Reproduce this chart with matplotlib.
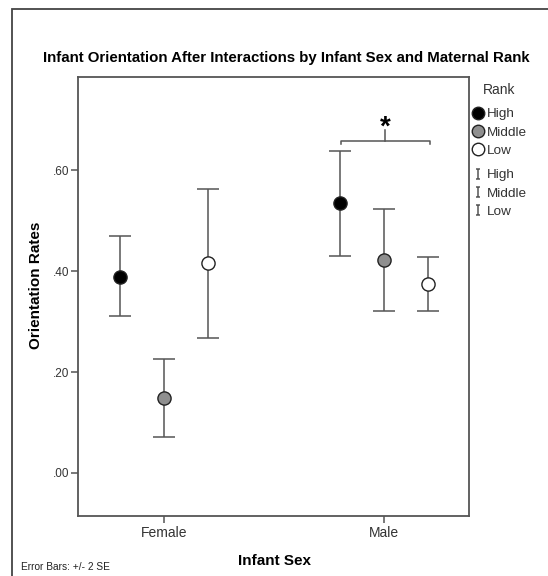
import matplotlib
matplotlib.use("Agg")
import matplotlib.pyplot as plt
import numpy as np
from matplotlib.lines import Line2D
from matplotlib.patches import Rectangle
from matplotlib.path import Path
from matplotlib.ticker import FuncFormatter

plt.rcParams["font.family"] = ["Liberation Sans", "DejaVu Sans"]

SEXES = ["Female", "Male"]
RANKS = ["High", "Middle", "Low"]

# group means and the +/- 2 SE limits, Female then Male
high_mean = [0.389, 0.536]
high_lo = [0.311, 0.431]
high_hi = [0.470, 0.639]
middle_mean = [0.149, 0.422]
middle_lo = [0.071, 0.320]
middle_hi = [0.226, 0.523]
low_mean = [0.416, 0.375]
low_lo = [0.267, 0.320]
low_hi = [0.562, 0.429]

MEANS = {"High": high_mean, "Middle": middle_mean, "Low": low_mean}
LOWER = {"High": high_lo, "Middle": middle_lo, "Low": low_lo}
UPPER = {"High": high_hi, "Middle": middle_hi, "Low": low_hi}
FACES = {"High": "black", "Middle": "#8f8f8f", "Low": "white"}
OFFSETS = {"High": -0.2, "Middle": 0.0, "Low": 0.2}
LINE = "#555555"
TEXT = "#333333"

fig = plt.figure(figsize=(5.48, 5.76), dpi=100)
ax = fig.add_axes([0.1416, 0.1050, 0.7150, 0.7613])

x = np.arange(len(SEXES))
for rank in RANKS:
    xs = x + OFFSETS[rank]
    m = np.array(MEANS[rank])
    err = [m - np.array(LOWER[rank]), np.array(UPPER[rank]) - m]
    ax.errorbar(xs, m, yerr=err, fmt="none", ecolor=LINE, elinewidth=1.1,
                capsize=8, capthick=1.1, zorder=2)
    ax.plot(xs, m, linestyle="none", marker="o", markersize=9.5,
            markerfacecolor=FACES[rank], markeredgecolor="#222222",
            markeredgewidth=1.0, zorder=3)

# significance bracket over the male groups
bx0, bx1 = 1 + OFFSETS["High"] + 0.006, 1 + OFFSETS["Low"] + 0.009
by = 0.659
ax.plot([bx0, bx0, bx1, bx1], [by - 0.006, by, by, by - 0.006],
        color=LINE, lw=1.1, solid_joinstyle="round")
ax.plot([1.005, 1.005], [by, by + 0.021], color=LINE, lw=1.1)
ax.text(1.005, 0.685, "*", ha="center", va="center", fontsize=20,
        fontweight="bold", color="black")

ax.set_xlim(-0.39, 1.386)
ax.set_ylim(-0.0846, 0.785)
ax.set_xticks(x)
ax.set_xticklabels(SEXES)
ax.set_yticks([0.0, 0.2, 0.4, 0.6])
ax.yaxis.set_major_formatter(FuncFormatter(lambda v, p: f"{v:.2f}".lstrip("0")))
ax.tick_params(axis="x", length=5, width=1.1, color=LINE, labelsize=10,
               labelcolor=TEXT, pad=2.5)
ax.tick_params(axis="y", length=5, width=1.1, color=LINE, labelsize=8.5,
               labelcolor=TEXT, pad=1)
for s in ax.spines.values():
    s.set_color(LINE)
    s.set_linewidth(1.3)

fig.text(0.522, 0.8998, "Infant Orientation After Interactions by Infant Sex and Maternal Rank",
         ha="center", va="center", fontsize=10.8, fontweight="bold")
fig.text(35.5 / 548, 1 - 285 / 576, "Orientation Rates", rotation=90,
         ha="center", va="center", fontsize=11, fontweight="bold")
fig.text(274 / 548, 1 - 561 / 576, "Infant Sex", ha="center", va="center",
         fontsize=11, fontweight="bold")
fig.text(21 / 548, 1 - 567 / 576, "Error Bars: +/- 2 SE", ha="left",
         va="center", fontsize=7.3, color="#222222")

# outer chart frame
fig.add_artist(Rectangle((11.5 / 548, -0.05), 1.2, 1.05 - 9.4 / 576,
                         transform=fig.transFigure, fill=False,
                         edgecolor="#444444", lw=1.3))

# legend: title, marker entries, then error bar entries
fig.text(499.5 / 548, 1 - 90 / 576, "Rank", ha="center", va="center",
         fontsize=10, color=TEXT)
mk = [Line2D([], [], linestyle="none", marker="o", markersize=9,
             markerfacecolor=FACES[r], markeredgecolor="#222222",
             markeredgewidth=1.0) for r in RANKS]
leg1 = ax.legend(mk, RANKS, loc="upper left",
                 bbox_to_anchor=(472 / 548, 1 - 108 / 576),
                 bbox_transform=fig.transFigure, frameon=False,
                 handlelength=0.9, handletextpad=0.2, labelspacing=0.42,
                 borderpad=0, borderaxespad=0, fontsize=9.7, labelcolor=TEXT)
ax.add_artist(leg1)

ibar = Path([(-0.45, -1), (0.45, -1), (0, -1), (0, 1), (-0.45, 1), (0.45, 1)],
            [Path.MOVETO, Path.LINETO, Path.MOVETO, Path.LINETO,
             Path.MOVETO, Path.LINETO])
eb = [Line2D([], [], linestyle="none", marker=ibar, markersize=7.2,
             markeredgecolor=LINE, markeredgewidth=1.1) for r in RANKS]
ax.legend(eb, RANKS, loc="upper left",
          bbox_to_anchor=(472 / 548, 1 - 169 / 576),
          bbox_transform=fig.transFigure, frameon=False,
          handlelength=0.9, handletextpad=0.2, labelspacing=0.42,
          borderpad=0, borderaxespad=0, fontsize=9.7, labelcolor=TEXT)

fig.savefig("out.png", dpi=100)
